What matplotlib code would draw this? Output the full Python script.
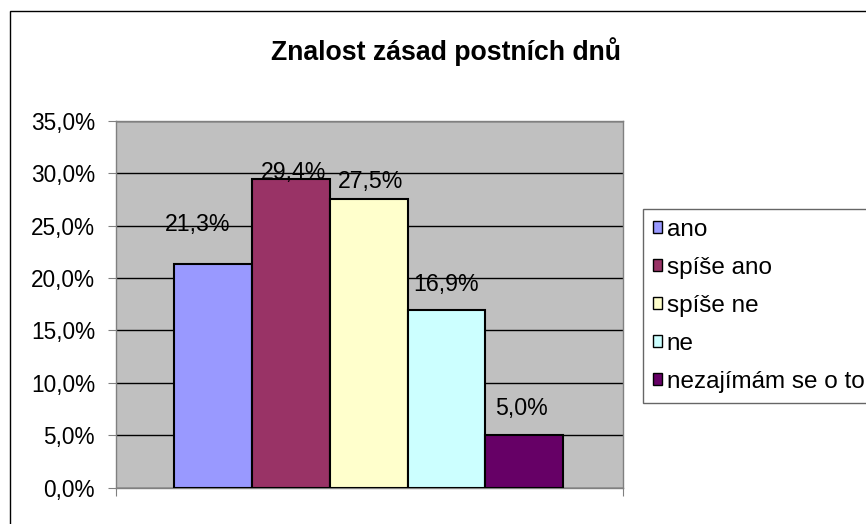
import matplotlib
matplotlib.use("Agg")
import matplotlib.pyplot as plt
from matplotlib.patches import Patch, Rectangle
from matplotlib.ticker import FuncFormatter, MultipleLocator

plt.rcParams['font.family'] = ['Liberation Sans', 'DejaVu Sans']

title = "Znalost zásad postních dnů"
categories = ["ano", "spíše ano", "spíše ne", "ne", "nezajímám se o to"]
values = [21.3, 29.4, 27.5, 16.9, 5.0]
colors = ["#9999FF", "#993366", "#FFFFCC", "#CCFFFF", "#660066"]
# label placement offsets (points) relative to the bar top, as in the original
label_dx = [-11, 2, 1, 0, -2]
label_dy = [29, 5, 13, 19, 19]

W, H = 866, 524
fig = plt.figure(figsize=(W / 100, H / 100), dpi=100)
fig.patch.set_facecolor("white")

# outer chart border
fig.patches.append(Rectangle((10 / W, -0.05), 1.1, 1 - 10.5 / H + 0.05,
                             transform=fig.transFigure, fill=False,
                             edgecolor="black", linewidth=1.0, clip_on=False))

ax = fig.add_axes([116 / W, 1 - 487.7 / H, 507 / W, (487.7 - 120.7) / H])
ax.set_facecolor("#C0C0C0")
ax.set_ylim(0, 35)
ax.set_xlim(-1.25, 5.27)
ax.yaxis.set_major_locator(MultipleLocator(5))
ax.yaxis.set_major_formatter(FuncFormatter(lambda v, p: f"{v:.1f}%".replace(".", ",")))
ax.grid(axis="y", color="black", linewidth=1.0)
ax.set_axisbelow(True)

xs = list(range(len(categories)))
bars = ax.bar(xs, values, width=1.0, color=colors, edgecolor="black", linewidth=1.5, zorder=3)
for i, (b, v) in enumerate(zip(bars, values)):
    ax.annotate(f"{v:.1f}%".replace(".", ","), (b.get_x() + b.get_width() / 2, v),
                xytext=(label_dx[i], label_dy[i]), textcoords="offset points",
                ha="center", va="center", fontsize=16.7, color="black", zorder=4)

for s in ax.spines.values():
    s.set_color("#808080")
    s.set_linewidth(1.0)
ax.set_xticks([-1.25, 5.27])
ax.set_xticklabels([])
ax.tick_params(axis="x", length=5.5, color="#808080", direction="out")
ax.tick_params(axis="y", length=5.8, color="#808080", pad=9.4, labelsize=16.3)

fig.text(446 / W, 1 - 52 / H, title, ha="center", va="center",
         fontsize=19.2, fontweight="bold")

handles = [Patch(facecolor=c, edgecolor="black", linewidth=1.0) for c in colors]
leg = fig.legend(handles, categories, loc="upper left", mode="expand",
                 bbox_to_anchor=(643 / W, 0, 245 / W, 1 - 209 / H), fontsize=17.5,
                 frameon=True, fancybox=False, edgecolor="#404040",
                 handlelength=0.38, handleheight=0.38, handletextpad=0.2,
                 labelspacing=0.66, borderpad=0.4, borderaxespad=0)
leg.get_frame().set_linewidth(1.0)

fig.savefig("out.png", dpi=100)
